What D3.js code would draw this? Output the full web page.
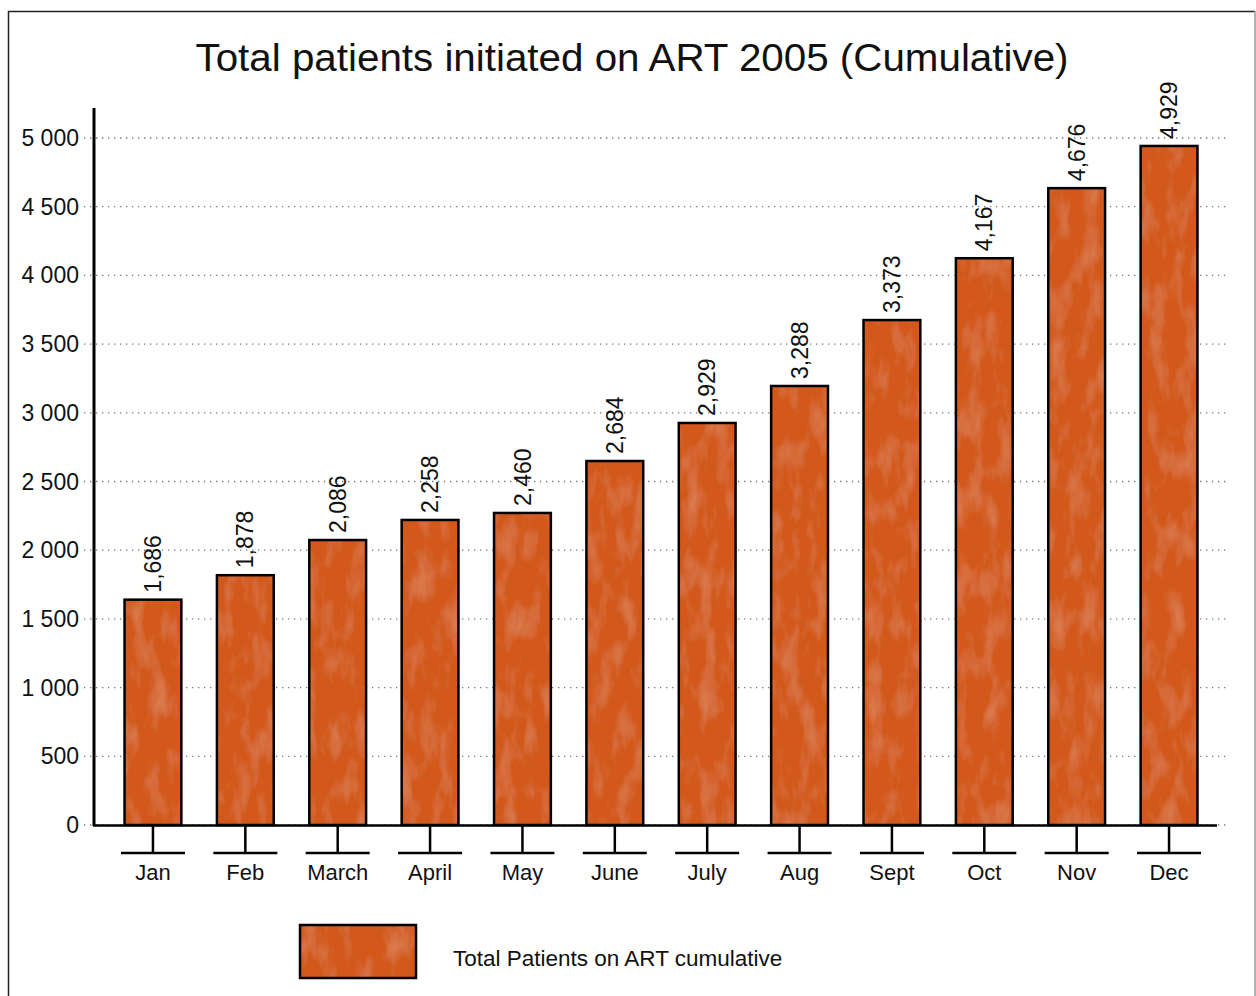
<!DOCTYPE html>
<html>
<head>
<meta charset="utf-8">
<script src="https://cdn.jsdelivr.net/npm/d3@7"></script>
<style>
  html, body { margin: 0; padding: 0; background: #fff; }
  svg { display: block; font-family: "Liberation Sans", Arial, sans-serif; }
</style>
</head>
<body>
<div id="chart"></div>
<script>
const width = 1256;
const height = 996;

// data
const months = ['Jan', 'Feb', 'March', 'April', 'May', 'June', 'July', 'Aug', 'Sept', 'Oct', 'Nov', 'Dec'];
// bar heights as drawn
const barValues = [1640, 1818, 2074, 2220, 2271, 2649, 2926, 3195, 3675, 4125, 4635, 4942];
// numbers printed above the bars
const labelValues = [1686, 1878, 2086, 2258, 2460, 2684, 2929, 3288, 3373, 4167, 4676, 4929];
const yTicks = [0, 500, 1000, 1500, 2000, 2500, 3000, 3500, 4000, 4500, 5000];
const title = 'Total patients initiated on ART 2005 (Cumulative)';
const legendLabel = 'Total Patients on ART cumulative';

const svg = d3.select('#chart')
  .append('svg')
  .attr('width', width)
  .attr('height', height);

// faint texture for the bars (orange paper look)
const defs = svg.append('defs');
const filter = defs.append('filter')
  .attr('id', 'paper')
  .attr('x', 0).attr('y', 0).attr('width', 1).attr('height', 1);
filter.append('feTurbulence')
  .attr('type', 'fractalNoise')
  .attr('baseFrequency', '0.06 0.025')
  .attr('numOctaves', 3)
  .attr('seed', 7)
  .attr('result', 'noise');
filter.append('feColorMatrix')
  .attr('in', 'noise')
  .attr('type', 'matrix')
  .attr('values', '0 0 0 0 0.90  0 0 0 0 0.52  0 0 0 0 0.28  0 0 0 0.55 -0.25')
  .attr('result', 'spots');
filter.append('feComposite')
  .attr('in', 'spots')
  .attr('in2', 'SourceGraphic')
  .attr('operator', 'in')
  .attr('result', 'spotsIn');
filter.append('feMerge')
  .selectAll('feMergeNode')
  .data(['SourceGraphic', 'spotsIn'])
  .enter()
  .append('feMergeNode')
  .attr('in', (d) => d);

// outer frame
svg.append('path')
  .attr('d', `M8.5,${height + 5} V11.5 H1255`)
  .attr('fill', 'none')
  .attr('stroke', '#222')
  .attr('stroke-width', 1.5);
svg.append('line')
  .attr('x1', 1255).attr('x2', 1255)
  .attr('y1', 11).attr('y2', height)
  .attr('stroke', '#999')
  .attr('stroke-width', 1.5);

// title
svg.append('text')
  .attr('x', 632)
  .attr('y', 71)
  .attr('text-anchor', 'middle')
  .attr('font-size', 38)
  .attr('textLength', 873)
  .attr('lengthAdjust', 'spacingAndGlyphs')
  .attr('fill', '#111')
  .text(title);

const x = d3.scaleBand()
  .domain(months)
  .range([107, 1215])
  .paddingInner(0.385)
  .paddingOuter(0.19);

const y = d3.scaleLinear()
  .domain([0, 5000])
  .range([825, 138]);

const spaceFmt = d3.formatLocale({ decimal: '.', thousands: ' ', grouping: [3], currency: ['', ''] }).format(',');
const commaFmt = d3.format(',');

// dotted grid lines
svg.append('g')
  .selectAll('line')
  .data(yTicks)
  .enter()
  .append('line')
  .attr('x1', 84)
  .attr('x2', 1226)
  .attr('y1', (d) => y(d))
  .attr('y2', (d) => y(d))
  .attr('stroke', '#777')
  .attr('stroke-width', 1.3)
  .attr('stroke-dasharray', '1.3,4.7');

// y tick labels
svg.append('g')
  .selectAll('text')
  .data(yTicks)
  .enter()
  .append('text')
  .attr('x', 79)
  .attr('y', (d) => y(d))
  .attr('dy', '0.35em')
  .attr('text-anchor', 'end')
  .attr('font-size', 23)
  .attr('fill', '#111')
  .text((d) => spaceFmt(d));

// bars
const bars = svg.append('g')
  .selectAll('g')
  .data(months)
  .enter()
  .append('g');

bars.append('rect')
  .attr('x', (d) => x(d))
  .attr('y', (d, i) => y(barValues[i]))
  .attr('width', x.bandwidth())
  .attr('height', (d, i) => y(0) - y(barValues[i]))
  .attr('fill', '#d2591f')
  .attr('filter', 'url(#paper)');

bars.append('rect')
  .attr('x', (d) => x(d))
  .attr('y', (d, i) => y(barValues[i]))
  .attr('width', x.bandwidth())
  .attr('height', (d, i) => y(0) - y(barValues[i]))
  .attr('fill', 'none')
  .attr('stroke', '#000')
  .attr('stroke-width', 2.5);

// value labels, rotated
bars.append('text')
  .attr('transform', (d, i) =>
    `translate(${x(d) + x.bandwidth() / 2},${y(barValues[i]) - 7}) rotate(-90)`)
  .attr('dy', '0.35em')
  .attr('font-size', 23)
  .attr('fill', '#111')
  .text((d, i) => commaFmt(labelValues[i]));

// y axis line
svg.append('line')
  .attr('x1', 94).attr('x2', 94)
  .attr('y1', 108).attr('y2', 826)
  .attr('stroke', '#000')
  .attr('stroke-width', 3);

// baseline
svg.append('line')
  .attr('x1', 93).attr('x2', 1217)
  .attr('y1', 825.5).attr('y2', 825.5)
  .attr('stroke', '#000')
  .attr('stroke-width', 2.5);

// category ticks (T shape under each bar)
const ticks = svg.append('g')
  .selectAll('g')
  .data(months)
  .enter()
  .append('g')
  .attr('transform', (d) => `translate(${x(d) + x.bandwidth() / 2},0)`);

ticks.append('line')
  .attr('y1', 826).attr('y2', 853)
  .attr('stroke', '#000')
  .attr('stroke-width', 2.5);

ticks.append('line')
  .attr('x1', -32).attr('x2', 32)
  .attr('y1', 853).attr('y2', 853)
  .attr('stroke', '#000')
  .attr('stroke-width', 2.5);

ticks.append('text')
  .attr('y', 880)
  .attr('text-anchor', 'middle')
  .attr('font-size', 22)
  .attr('fill', '#111')
  .text((d) => d);

// legend
svg.append('rect')
  .attr('x', 300).attr('y', 925)
  .attr('width', 116).attr('height', 53)
  .attr('fill', '#d2591f')
  .attr('filter', 'url(#paper)');
svg.append('rect')
  .attr('x', 300).attr('y', 925)
  .attr('width', 116).attr('height', 53)
  .attr('fill', 'none')
  .attr('stroke', '#000')
  .attr('stroke-width', 2.5);
svg.append('text')
  .attr('x', 453)
  .attr('y', 966)
  .attr('font-size', 22.5)
  .attr('fill', '#111')
  .text(legendLabel);
</script>
</body>
</html>
